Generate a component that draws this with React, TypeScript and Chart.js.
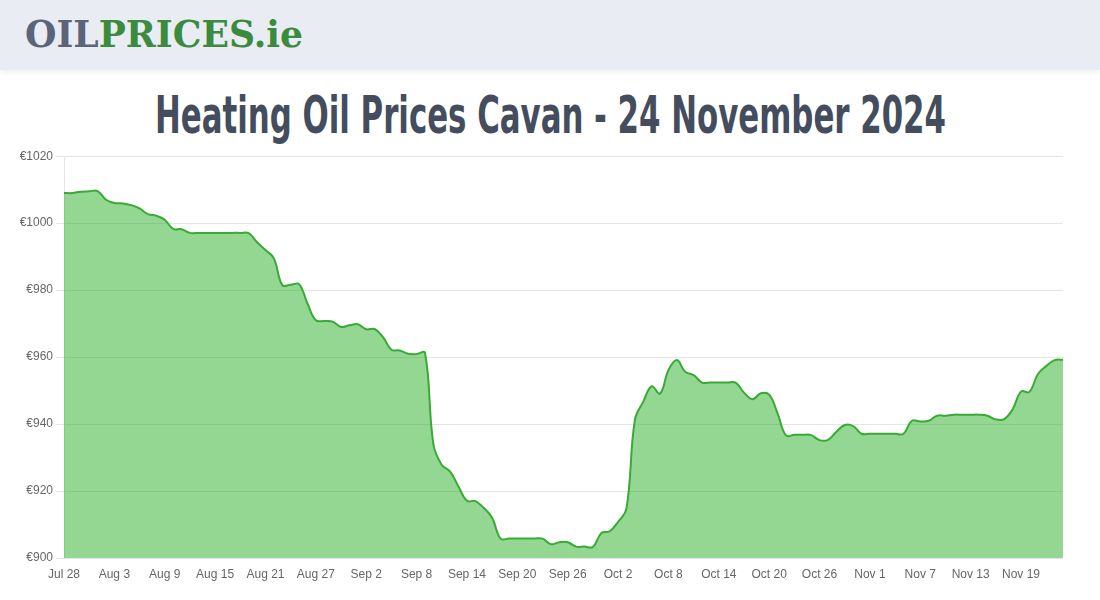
import React, { useEffect, useLayoutEffect, useRef } from "react";
import { Chart, registerables } from "chart.js";

Chart.register(...registerables);

// ---- data ----
const START_DATE = "2024-07-28";
const DAY_COUNT = 120;
const TICK_LABELS = [
  "Jul 28", "Aug 3", "Aug 9", "Aug 15", "Aug 21", "Aug 27", "Sep 2", "Sep 8",
  "Sep 14", "Sep 20", "Sep 26", "Oct 2", "Oct 8", "Oct 14", "Oct 20", "Oct 26",
  "Nov 1", "Nov 7", "Nov 13", "Nov 19",
];
const PRICES = [
  1009, 1009, 1009.4, 1009.5, 1009.6, 1007, 1006, 1005.9, 1005.4, 1004.4,
  1002.7, 1002.2, 1001, 998.3, 998.2, 997.1, 997.1, 997.1, 997.1, 997.1,
  997.1, 997.1, 997, 994.3, 992, 989.5, 981.5, 981.6, 981.8, 976,
  971, 970.8, 970.6, 969, 969.5, 969.8, 968.3, 968.4, 966, 962.2,
  962, 961, 960.9, 961.3, 934, 927.8, 925.8, 921.3, 917.1, 917,
  915, 912, 905.8, 905.8, 905.8, 905.8, 905.8, 905.8, 904.1, 904.7,
  904.7, 903.4, 903.4, 903.3, 907.4, 908, 910.8, 914.8, 941.2, 946.7,
  951.3, 949.1, 956.1, 959.1, 955.6, 954.6, 952.4, 952.4, 952.4, 952.4,
  952.4, 949.4, 947.4, 949.2, 948.8, 943.2, 936.6, 936.8, 936.8, 936.7,
  935.2, 935.3, 937.7, 939.7, 939.4, 937.1, 937.1, 937.1, 937.1, 937.1,
  937.1, 941, 940.8, 941, 942.5, 942.5, 942.8, 942.8, 942.8, 942.8,
  942.5, 941.4, 941.5, 944.4, 949.7, 949.6, 954.9, 957.3, 959.1, 959.2,
];
const Y_MIN = 900;
const Y_MAX = 1020;
const Y_STEP = 20;
const TITLE = "Heating Oil Prices Cavan - 24 November 2024";

const MONTHS = ["Jan", "Feb", "Mar", "Apr", "May", "Jun", "Jul", "Aug", "Sep", "Oct", "Nov", "Dec"];
function buildDayLabels(): string[] {
  const out: string[] = [];
  const d0 = new Date(START_DATE + "T12:00:00Z");
  for (let i = 0; i < DAY_COUNT; i++) {
    const d = new Date(d0.getTime() + i * 86400000);
    out.push(MONTHS[d.getUTCMonth()] + " " + d.getUTCDate());
  }
  return out;
}
const DAY_LABELS = buildDayLabels();

function FitText(props: { text: React.ReactNode; width: number; style: React.CSSProperties }) {
  const ref = useRef<HTMLSpanElement>(null);
  useLayoutEffect(() => {
    const el = ref.current;
    if (!el) return;
    el.style.transform = "none";
    const w = el.getBoundingClientRect().width;
    if (w > 0) el.style.transform = `scaleX(${props.width / w})`;
  }, [props.width]);
  return (
    <span ref={ref} style={{ display: "inline-block", whiteSpace: "nowrap", transformOrigin: "left top", ...props.style }}>
      {props.text}
    </span>
  );
}

function PriceChart() {
  const canvasRef = useRef<HTMLCanvasElement>(null);
  useEffect(() => {
    const canvas = canvasRef.current;
    if (!canvas) return;
    const chart = new Chart(canvas, {
      type: "line",
      data: {
        labels: DAY_LABELS,
        datasets: [
          {
            data: PRICES,
            borderColor: "#38ab35",
            backgroundColor: "rgba(40,175,40,0.5)",
            borderWidth: 2,
            fill: "origin",
            pointRadius: 0,
            tension: 0.4,
          },
        ],
      },
      options: {
        animation: false,
        responsive: true,
        maintainAspectRatio: false,
        layout: { padding: { top: 0, right: 0, bottom: 0, left: 0 } },
        plugins: { legend: { display: false }, tooltip: { enabled: false } },
        scales: {
          x: {
            grid: { display: false, drawTicks: false },
            border: { display: false },
            ticks: {
              autoSkip: false,
              maxRotation: 0,
              minRotation: 0,
              padding: 9,
              color: "#666",
              font: { family: "'Liberation Sans', Arial, sans-serif", size: 12 },
              callback: (_v: any, i: number) => (TICK_LABELS.includes(DAY_LABELS[i]) ? DAY_LABELS[i] : ""),
            },
            afterFit: (s: any) => {
              s.height = 32;
            },
          },
          y: {
            min: Y_MIN,
            max: Y_MAX,
            grid: { color: "rgba(0,0,0,0.1)", tickLength: 8 },
            border: { display: true, color: "rgba(0,0,0,0.1)" },
            ticks: {
              stepSize: Y_STEP,
              padding: 3,
              color: "#666",
              font: { family: "'Liberation Sans', Arial, sans-serif", size: 12 },
              callback: (v: any) => "€" + v,
            },
            afterFit: (s: any) => {
              s.width = 64;
            },
          },
        },
      },
    });
    return () => chart.destroy();
  }, []);
  return <canvas ref={canvasRef} />;
}

export default function App() {
  return (
    <div style={{ position: "fixed", left: 0, top: 0, width: 1100, height: 600, background: "#fff", overflow: "hidden" }}>
      <div
        style={{
          position: "absolute",
          left: 0,
          top: 0,
          width: 1100,
          height: 70,
          background: "#e9ecf3",
          boxShadow: "0 2px 6px rgba(0,0,0,0.08)",
        }}
      >
        <div style={{ position: "absolute", left: 25, top: 12 }}>
          <FitText
            width={278}
            style={{ fontFamily: "'DejaVu Serif', serif", fontWeight: 900, fontSize: 37, lineHeight: "44px" }}
            text={
              <>
                <span style={{ color: "#5b6479" }}>OIL</span>
                <span style={{ color: "#3b8b3f" }}>PRICES.ie</span>
              </>
            }
          />
        </div>
      </div>
      <div style={{ position: "absolute", left: 155, top: 85 }}>
        <FitText
          width={791}
          style={{
            fontFamily: "'Liberation Sans Narrow', 'DejaVu Sans Condensed', 'Liberation Sans', sans-serif",
            fontWeight: 700,
            fontSize: 52,
            lineHeight: "60px",
            color: "#434d5e",
          }}
          text={TITLE}
        />
      </div>
      <div style={{ position: "absolute", left: 0, top: 146, width: 1072, height: 444 }}>
        <PriceChart />
      </div>
    </div>
  );
}
